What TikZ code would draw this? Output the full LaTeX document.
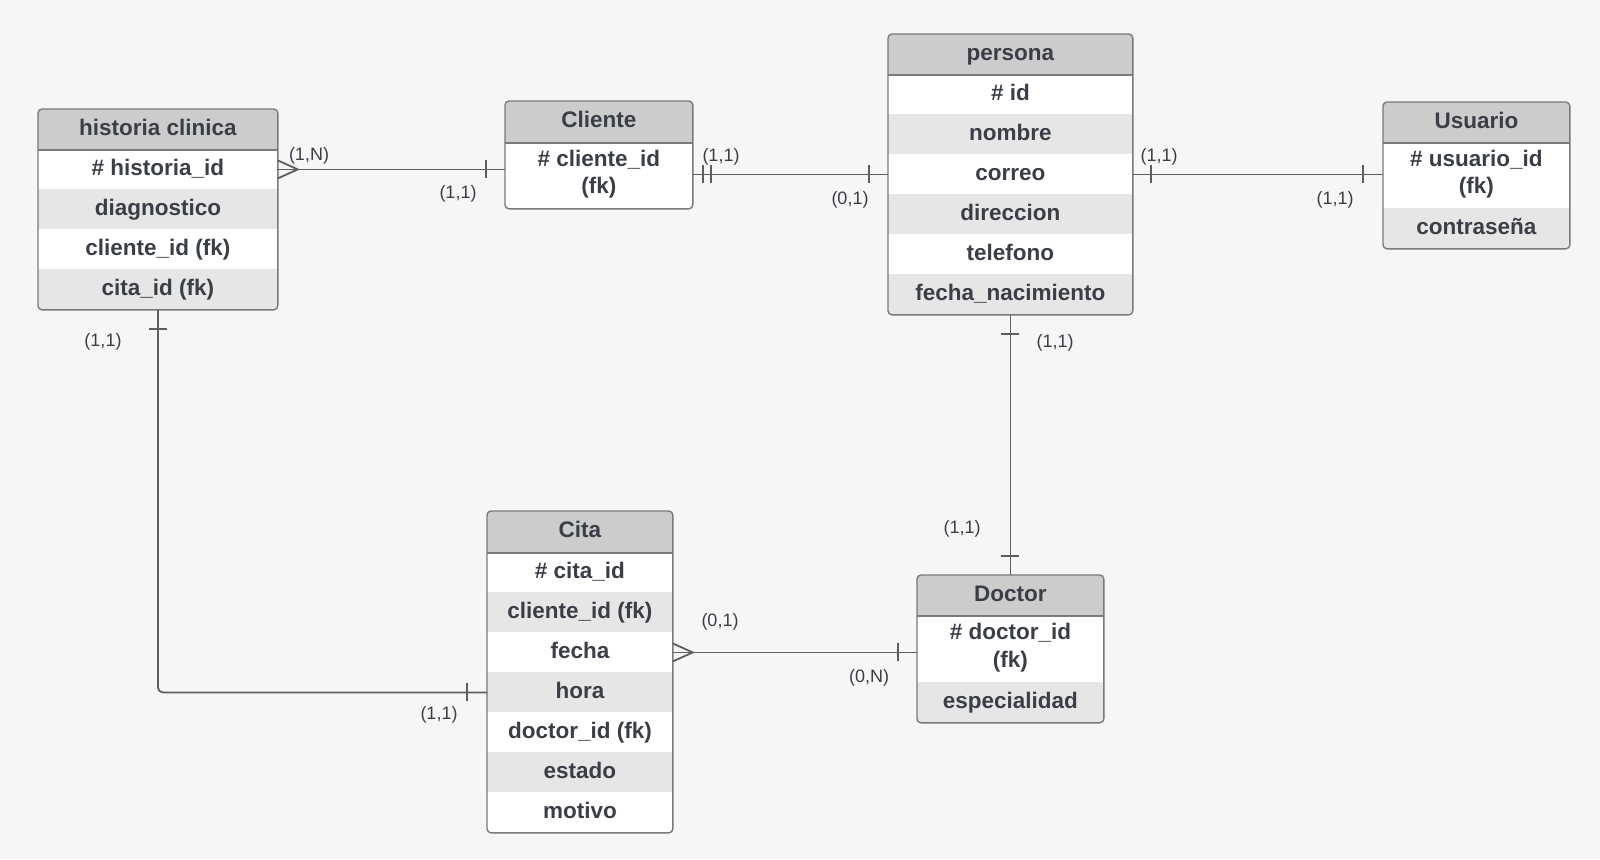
\documentclass[tikz,border=0pt]{standalone}
\usepackage{fontspec}
\setmainfont{Liberation Sans}
\usetikzlibrary{calc}
\definecolor{bg}{HTML}{F6F6F6}
\definecolor{hdrgray}{HTML}{CCCCCC}
\definecolor{altgray}{HTML}{E6E6E6}
\definecolor{bordc}{HTML}{7A7A7A}
\definecolor{txt}{HTML}{3A3F47}
\definecolor{linec}{HTML}{5E5E5E}
\tikzset{
  cellbase/.style={anchor=north west, inner sep=0pt, text=txt, align=center,
    font=\fontsize{11.25}{11.7}\selectfont\bfseries,
    text height=8.2pt, text depth=2.3pt, minimum height=20pt},
  hdr/.style={cellbase, fill=hdrgray},
  rw/.style={cellbase, fill=white},
  rwalt/.style={cellbase, fill=altgray},
  twoline/.style={font=\fontsize{11.25}{13.75}\selectfont\bfseries,
    text height=21.95pt, text depth=3.45pt},
  bord/.style={draw=bordc, line width=0.7pt},
  conn/.style={draw=linec, line width=0.9pt},
  lab/.style={inner sep=0pt, text=txt, font=\fontsize{9}{10}\selectfont},
}
\begin{document}
\begin{tikzpicture}[x=0.5pt,y=-0.5pt]
\path[use as bounding box, fill=bg] (0,0) rectangle (1600,859);

% historia clinica
\begin{scope}
\clip[rounded corners=2pt] (38,109) rectangle (277,309);
\begin{scope}[every node/.append style={minimum width=119.5pt}]
\node[hdr] (hc-h) at (38,109) {historia clinica};
\node[rw] (hc-1) at (38,149) {\# historia\_id};
\node[rwalt] (hc-2) at (38,189) {diagnostico};
\node[rw] (hc-3) at (38,229) {cliente\_id (fk)};
\node[rwalt] (hc-4) at (38,269) {cita\_id (fk)};
\end{scope}
\end{scope}
\draw[bord] (hc-h.south west) -- (hc-h.south east);
\draw[bord, rounded corners=2pt] (hc-h.north west) rectangle (hc-4.south east);

% Cliente
\begin{scope}
\clip[rounded corners=2pt] (505,101) rectangle (692,208);
\begin{scope}[every node/.append style={minimum width=93.5pt}]
\node[hdr, minimum height=20.5pt] (cl-h) at (505,101) {Cliente};
\node[rw, twoline, minimum height=33pt] (cl-1) at (505,142) {\# cliente\_id\\(fk)};
\end{scope}
\end{scope}
\draw[bord] (cl-h.south west) -- (cl-h.south east);
\draw[bord, rounded corners=2pt] (cl-h.north west) rectangle (cl-1.south east);

% persona
\begin{scope}
\clip[rounded corners=2pt] (888,34) rectangle (1132,314);
\begin{scope}[every node/.append style={minimum width=122pt}]
\node[hdr] (pe-h) at (888,34) {persona};
\node[rw] (pe-1) at (888,74) {\# id};
\node[rwalt] (pe-2) at (888,114) {nombre};
\node[rw] (pe-3) at (888,154) {correo};
\node[rwalt] (pe-4) at (888,194) {direccion};
\node[rw] (pe-5) at (888,234) {telefono};
\node[rwalt] (pe-6) at (888,274) {fecha\_nacimiento};
\end{scope}
\end{scope}
\draw[bord] (pe-h.south west) -- (pe-h.south east);
\draw[bord, rounded corners=2pt] (pe-h.north west) rectangle (pe-6.south east);

% Usuario
\begin{scope}
\clip[rounded corners=2pt] (1383,102) rectangle (1569,248);
\begin{scope}[every node/.append style={minimum width=93pt}]
\node[hdr] (us-h) at (1383,102) {Usuario};
\node[rw, twoline, minimum height=33pt] (us-1) at (1383,142) {\# usuario\_id\\(fk)};
\node[rwalt] (us-2) at (1383,208) {contraseña};
\end{scope}
\end{scope}
\draw[bord] (us-h.south west) -- (us-h.south east);
\draw[bord, rounded corners=2pt] (us-h.north west) rectangle (us-2.south east);

% Cita
\begin{scope}
\clip[rounded corners=2pt] (487,511) rectangle (672,832);
\begin{scope}[every node/.append style={minimum width=92.5pt}]
\node[hdr, minimum height=20.5pt] (ci-h) at (487,511) {Cita};
\node[rw] (ci-1) at (487,552) {\# cita\_id};
\node[rwalt] (ci-2) at (487,592) {cliente\_id (fk)};
\node[rw] (ci-3) at (487,632) {fecha};
\node[rwalt] (ci-4) at (487,672) {hora};
\node[rw] (ci-5) at (487,712) {doctor\_id (fk)};
\node[rwalt] (ci-6) at (487,752) {estado};
\node[rw] (ci-7) at (487,792) {motivo};
\end{scope}
\end{scope}
\draw[bord] (ci-h.south west) -- (ci-h.south east);
\draw[bord, rounded corners=2pt] (ci-h.north west) rectangle (ci-7.south east);

% Doctor
\begin{scope}
\clip[rounded corners=2pt] (917,575) rectangle (1103,722);
\begin{scope}[every node/.append style={minimum width=93pt}]
\node[hdr] (dr-h) at (917,575) {Doctor};
\node[rw, twoline, minimum height=33.5pt] (dr-1) at (917,615) {\# doctor\_id\\(fk)};
\node[rwalt] (dr-2) at (917,682) {especialidad};
\end{scope}
\end{scope}
\draw[bord] (dr-h.south west) -- (dr-h.south east);
\draw[bord, rounded corners=2pt] (dr-h.north west) rectangle (dr-2.south east);

% historia -- Cliente
\draw[conn] (hc-1.east) -- (hc-1.east -| cl-1.west);
\draw[conn] ($(hc-1.east)+(0,-9)$) -- ++(20,9) -- ++(-20,9);
\draw[conn] ($(hc-1.east -| cl-1.west)+(-19,-9)$) -- ++(0,18);

% Cliente -- persona
\draw[conn] (pe-3.west -| cl-1.east) -- (pe-3.west);
\draw[conn] ($(pe-3.west -| cl-1.east)+(10,-9)$) -- ++(0,18);
\draw[conn] ($(pe-3.west -| cl-1.east)+(18,-9)$) -- ++(0,18);
\draw[conn] ($(pe-3.west)+(-19,-9)$) -- ++(0,18);

% persona -- Usuario
\draw[conn] (pe-3.east) -- (pe-3.east -| us-1.west);
\draw[conn] ($(pe-3.east)+(18,-9)$) -- ++(0,18);
\draw[conn] ($(pe-3.east -| us-1.west)+(-20,-9)$) -- ++(0,18);

% persona -- Doctor
\draw[conn] (pe-6.south) -- (dr-h.north);
\draw[conn] ($(pe-6.south)+(-9,19)$) -- ++(18,0);
\draw[conn] ($(dr-h.north)+(-9,-19)$) -- ++(18,0);

% Cita -- Doctor
\draw[conn] (ci-3.east) -- (ci-3.east -| dr-1.west);
\draw[conn] ($(ci-3.east)+(0,-9)$) -- ++(20,9) -- ++(-20,9);
\draw[conn] ($(ci-3.east -| dr-1.west)+(-19,-9)$) -- ++(0,18);

% historia -- Cita
\draw[conn, rounded corners=2.5pt] (hc-4.south) -- (hc-4.south |- ci-4.west) -- (ci-4.west);
\draw[conn] ($(hc-4.south)+(-9,19)$) -- ++(18,0);
\draw[conn] ($(ci-4.west)+(-20,-9)$) -- ++(0,18);

% cardinality labels
\node[lab] (l1) at (309,156) {(1,N)};
\node[lab] (l2) at (458,194) {(1,1)};
\node[lab] (l3) at (721,157) {(1,1)};
\node[lab] (l4) at (850,200) {(0,1)};
\node[lab] (l5) at (1159,157) {(1,1)};
\node[lab] (l6) at (1335,200) {(1,1)};
\node[lab] (l7) at (103,342) {(1,1)};
\node[lab] (l8) at (1055,343) {(1,1)};
\node[lab] (l9) at (962,529) {(1,1)};
\node[lab] (l10) at (720,622) {(0,1)};
\node[lab] (l11) at (869,678) {(0,N)};
\node[lab] (l12) at (439,715) {(1,1)};
\end{tikzpicture}
\end{document}
